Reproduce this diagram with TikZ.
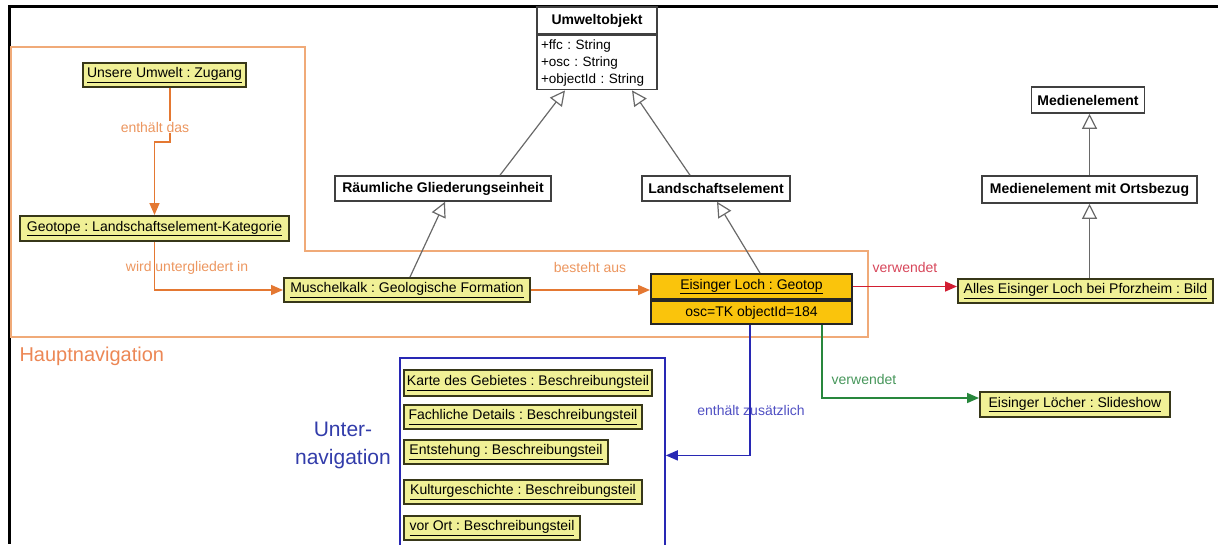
\documentclass[tikz,border=0pt]{standalone}
\usepackage{fontspec}
\setmainfont{Liberation Sans}
\usetikzlibrary{arrows.meta,calc}
\definecolor{yel}{RGB}{240,240,150}
\definecolor{yelborder}{RGB}{55,55,25}
\definecolor{gold}{RGB}{250,196,12}
\definecolor{gry}{RGB}{105,105,105}
\definecolor{orconn}{RGB}{228,120,50}
\definecolor{orlbl}{RGB}{236,150,95}
\definecolor{orreg}{RGB}{240,170,120}
\definecolor{redconn}{RGB}{210,30,50}
\definecolor{redlbl}{RGB}{215,70,90}
\definecolor{bluconn}{RGB}{40,40,180}
\definecolor{blulbl}{RGB}{80,80,195}
\definecolor{grnconn}{RGB}{40,135,60}
\definecolor{grnlbl}{RGB}{70,150,90}
\definecolor{hnav}{RGB}{236,135,85}
\definecolor{unav}{RGB}{50,60,170}
\newcommand\fs{\fontsize{14}{16.5}\selectfont}
\frenchspacing
\tikzset{
  cls/.style={draw=black!75, line width=1.6pt, fill=white, inner sep=0pt,
    font=\fs\bfseries, minimum height=25pt},
  inst/.style={draw=yelborder, line width=2pt, fill=yel, inner sep=0pt,
    font=\fs, minimum height=24pt},
  eis/.style={draw=black!85, line width=2pt, fill=gold, inner sep=0pt,
    font=\fs},
  gen/.style={draw=gry, line width=1.2pt,
    -{Triangle[open,length=15pt,width=15pt,fill=white]}},
  asso/.style={line width=1.6pt, -{Triangle[length=12pt,width=10pt]}},
  lbl/.style={font=\fs, inner sep=1pt},
}
\begin{document}
\begin{tikzpicture}[x=1pt,y=-1pt]
\useasboundingbox (0,0) rectangle (1218,544);
% frame
\draw[line width=3pt] (1218,6) -- (9,6) -- (9,544);
% orange region (Hauptnavigation)
\draw[orreg, line width=2.2pt] (11,47) -- (305,47) -- (305,251) -- (868,251)
  -- (868,337) -- (11,337) -- cycle;
\node[font=\fontsize{20}{22}\selectfont, text=hnav, anchor=west] (hn) at (16,356) {Hauptnavigation};
\node[font=\fontsize{21}{28}\selectfont, text=unav, align=center] (un) at (343,445) {Unter-\\navigation};

% class boxes
\node[cls, minimum width=120pt, minimum height=27pt] (uo) at (597,20.5) {Umweltobjekt};
\node[draw=black!75, line width=1.6pt, fill=white, inner xsep=4pt, inner ysep=3pt,
  font=\fontsize{13.5}{17}\selectfont, align=left, text width=112pt,
  minimum height=54pt, anchor=north] (uoa) at (uo.south)
  {+ffc : String\\+osc : String\\+objectId : String};
\node[cls, minimum width=216pt] (rg) at (443,188.5) {Räumliche Gliederungseinheit};
\node[cls, minimum width=148pt] (le) at (716,188.5) {Landschaftselement};
\node[cls, minimum width=113pt, minimum height=26pt] (me) at (1088,100) {Medienelement};
\node[cls, minimum width=215pt, minimum height=27pt] (mo) at (1089.5,189.5) {Medienelement mit Ortsbezug};

% instance boxes
\node[inst, minimum width=163pt] (uu) at (164.5,75) {\underline{Unsere Umwelt : Zugang}};
\node[inst, minimum width=269pt, minimum height=25pt] (ge) at (154.5,228.5) {\underline{Geotope : Landschaftselement-Kategorie}};
\node[inst, minimum width=246pt] (mu) at (407,290) {\underline{Muschelkalk : Geologische Formation}};
\node[eis, minimum width=201pt, minimum height=25pt] (ei) at (751.5,286.5) {\underline{Eisinger Loch : Geotop}};
\node[eis, minimum width=201pt, minimum height=23pt, anchor=north] (eia) at (ei.south) {osc=TK objectId=184};
\node[inst, minimum width=255pt] (ab) at (1085.5,291) {\underline{Alles Eisinger Loch bei Pforzheim : Bild}};
\node[inst, minimum width=190pt, minimum height=25pt] (sl) at (1075,404.5) {\underline{Eisinger Löcher : Slideshow}};

% Unternavigation container
\node[draw=bluconn, line width=1.8pt, minimum width=265pt, minimum height=195pt,
  inner sep=0pt, anchor=north west] (sub) at (399,357) {};
\node[inst, minimum width=248pt, minimum height=26pt] (k1) at (528,383) {\underline{Karte des Gebietes : Beschreibungsteil}};
\node[inst, minimum width=238pt] (k2) at (523,417) {\underline{Fachliche Details : Beschreibungsteil}};
\node[inst, minimum width=204pt] (k3) at (506,452) {\underline{Entstehung : Beschreibungsteil}};
\node[inst, minimum width=238pt] (k4) at (523,492) {\underline{Kulturgeschichte : Beschreibungsteil}};
\node[inst, minimum width=176pt] (k5) at (492,528) {\underline{vor Ort : Beschreibungsteil}};

% generalisations
\draw[gen] ([xshift=3pt]mu.north) -- ([xshift=2pt]rg.south);
\draw[gen] ([xshift=8.5pt]ei.north) -- ([xshift=1pt]le.south);
\draw[gen] ([xshift=57pt]rg.north) -- ([xshift=-32pt]uoa.south);
\draw[gen] ([xshift=-26pt]le.north) -- ([xshift=35pt]uoa.south);
\draw[gen] (ab.north -| mo.south) -- (mo.south);
\draw[gen] (mo.north) -- (mo.north |- me.south);

% associations
\coordinate (j1) at (154.5,142);
\draw[asso, orconn] ([xshift=5.5pt]uu.south) |- (j1) -- (ge.north);
\node[lbl, text=orlbl, fill=white] (l1) at (155,127) {enthält das};
\draw[asso, orconn] (ge.south) |- (mu.west);
\node[lbl, text=orlbl] (l2) at (187,268) {wird untergliedert in};
\draw[asso, orconn] (mu.east) -- (mu.east -| ei.west);
\node[lbl, text=orlbl] (l3) at (590,267) {besteht aus};
\draw[asso, redconn] (ei.east) -- (ei.east -| ab.west);
\node[lbl, text=redlbl] (l4) at (905,267) {verwendet};
\draw[asso, bluconn] ([xshift=-1.5pt]eia.south) |- (sub.east);
\node[lbl, text=blulbl] (l5) at (751,410) {enthält zusätzlich};
\draw[asso, grnconn] ([xshift=70.5pt]eia.south) |- ([yshift=6.5pt]sl.west);
\node[lbl, text=grnlbl] (l6) at (864,379) {verwendet};
\end{tikzpicture}
\end{document}
